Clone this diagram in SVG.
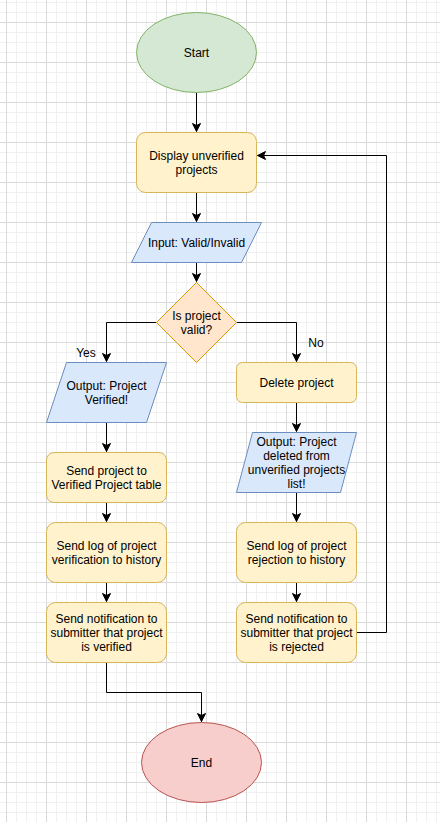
<svg xmlns="http://www.w3.org/2000/svg" width="440" height="822" viewBox="0 0 440 822">
  <defs>
    <pattern id="grid" patternUnits="userSpaceOnUse" x="6" y="22" width="40" height="40">
      <rect x="0" y="0" width="40" height="40" fill="#ffffff"/>
      <rect x="10" y="0" width="1" height="40" fill="#f0f0f0"/>
      <rect x="20" y="0" width="1" height="40" fill="#f0f0f0"/>
      <rect x="30" y="0" width="1" height="40" fill="#f0f0f0"/>
      <rect x="0" y="10" width="40" height="1" fill="#f0f0f0"/>
      <rect x="0" y="20" width="40" height="1" fill="#f0f0f0"/>
      <rect x="0" y="30" width="40" height="1" fill="#f0f0f0"/>
      <rect x="0" y="0" width="1" height="40" fill="#dadada"/>
      <rect x="0" y="0" width="40" height="1" fill="#dadada"/>
    </pattern>
    <marker id="arrow" markerUnits="userSpaceOnUse" markerWidth="12" markerHeight="12" viewBox="-10 -6 12 12" refX="0" refY="0" orient="auto">
      <path d="M0,0 L-8,-4 L-6,0 L-8,4 Z" fill="#000" stroke="#000" stroke-width="1"/>
    </marker>
    <style>
      text { font-family: "Liberation Sans", Arial, Helvetica, sans-serif; font-size: 12px; fill: #000; text-anchor: middle; }
      .green { fill: #d5e8d4; stroke: #82b366; stroke-width: 1; }
      .yellow { fill: #fff2cc; stroke: #d6b656; stroke-width: 1; }
      .blue { fill: #dae8fc; stroke: #6c8ebf; stroke-width: 1; }
      .orange { fill: #ffe6cc; stroke: #d79b00; stroke-width: 1; }
      .red { fill: #f8cecc; stroke: #b85450; stroke-width: 1; }
      .edge { fill: none; stroke: #000; stroke-width: 1; marker-end: url(#arrow); }
    </style>
  </defs>
  <rect x="0" y="0" width="440" height="822" fill="url(#grid)"/>

  <g id="connectors">
    <path class="edge" d="M196.5,92.5 L196.5,131.5"/>
    <path class="edge" d="M196.5,192.5 L196.5,221.5"/>
    <path class="edge" d="M196.5,262.5 L196.5,281.5"/>
    <path class="edge" d="M156.5,322.5 L106.5,322.5 L106.5,361.5"/>
    <path class="edge" d="M236.5,322.5 L296.5,322.5 L296.5,361.5"/>
    <path class="edge" d="M106.5,422.5 L106.5,451.5"/>
    <path class="edge" d="M106.5,502.5 L106.5,521.5"/>
    <path class="edge" d="M106.5,582.5 L106.5,601.5"/>
    <path class="edge" d="M296.5,402.5 L296.5,431.5"/>
    <path class="edge" d="M296.5,492.5 L296.5,521.5"/>
    <path class="edge" d="M296.5,582.5 L296.5,601.5"/>
    <path class="edge" d="M106.5,662.5 L106.5,692.5 L201.5,692.5 L201.5,721.5"/>
    <path class="edge" d="M356.5,632.5 L386.5,632.5 L386.5,155.5 L257.5,155.5"/>
    <text x="86" y="357">Yes</text>
    <text x="316" y="347">No</text>
  </g>

  <g id="start">
    <ellipse class="green" cx="196.5" cy="52.5" rx="60" ry="40"/>
    <text x="196.5" y="56.8">Start</text>
  </g>

  <g id="display">
    <rect class="yellow" x="136.5" y="132.5" width="120" height="60" rx="9" ry="9"/>
    <text x="196.5" y="159.8">Display unverified</text>
    <text x="196.5" y="173.8">projects</text>
  </g>

  <g id="input">
    <polygon class="blue" points="131.5,262.5 151.5,222.5 261.5,222.5 241.5,262.5"/>
    <text x="196.5" y="246.8">Input: Valid/Invalid</text>
  </g>

  <g id="decision">
    <polygon class="orange" points="196.5,282.5 236.5,322.5 196.5,362.5 156.5,322.5"/>
    <text x="196.5" y="319.8">Is project</text>
    <text x="196.5" y="333.8">valid?</text>
  </g>

  <g id="output-verified">
    <polygon class="blue" points="46.5,422.5 66.5,362.5 166.5,362.5 146.5,422.5"/>
    <text x="106.5" y="389.8">Output: Project</text>
    <text x="106.5" y="403.8">Verified!</text>
  </g>

  <g id="delete">
    <rect class="yellow" x="236.5" y="362.5" width="120" height="40" rx="6" ry="6"/>
    <text x="296.5" y="386.8">Delete project</text>
  </g>

  <g id="send-verified">
    <rect class="yellow" x="46.5" y="452.5" width="120" height="50" rx="7.5" ry="7.5"/>
    <text x="106.5" y="474.8">Send project to</text>
    <text x="106.5" y="488.8">Verified Project table</text>
  </g>

  <g id="output-deleted">
    <polygon class="blue" points="236.5,492.5 252.5,432.5 356.5,432.5 340.5,492.5"/>
    <text x="296.5" y="445.8">Output: Project</text>
    <text x="296.5" y="459.8">deleted from</text>
    <text x="296.5" y="473.8">unverified projects</text>
    <text x="296.5" y="487.8">list!</text>
  </g>

  <g id="log-verified">
    <rect class="yellow" x="46.5" y="522.5" width="120" height="60" rx="9" ry="9"/>
    <text x="106.5" y="549.8">Send log of project</text>
    <text x="106.5" y="563.8">verification to history</text>
  </g>

  <g id="log-rejected">
    <rect class="yellow" x="236.5" y="522.5" width="120" height="60" rx="9" ry="9"/>
    <text x="296.5" y="549.8">Send log of project</text>
    <text x="296.5" y="563.8">rejection to history</text>
  </g>

  <g id="notify-verified">
    <rect class="yellow" x="46.5" y="602.5" width="120" height="60" rx="9" ry="9"/>
    <text x="106.5" y="622.8">Send notification to</text>
    <text x="106.5" y="636.8">submitter that project</text>
    <text x="106.5" y="650.8">is verified</text>
  </g>

  <g id="notify-rejected">
    <rect class="yellow" x="236.5" y="602.5" width="120" height="60" rx="9" ry="9"/>
    <text x="296.5" y="622.8">Send notification to</text>
    <text x="296.5" y="636.8">submitter that project</text>
    <text x="296.5" y="650.8">is rejected</text>
  </g>

  <g id="end">
    <ellipse class="red" cx="201.5" cy="762.5" rx="60" ry="40"/>
    <text x="201.5" y="766.8">End</text>
  </g>
</svg>
